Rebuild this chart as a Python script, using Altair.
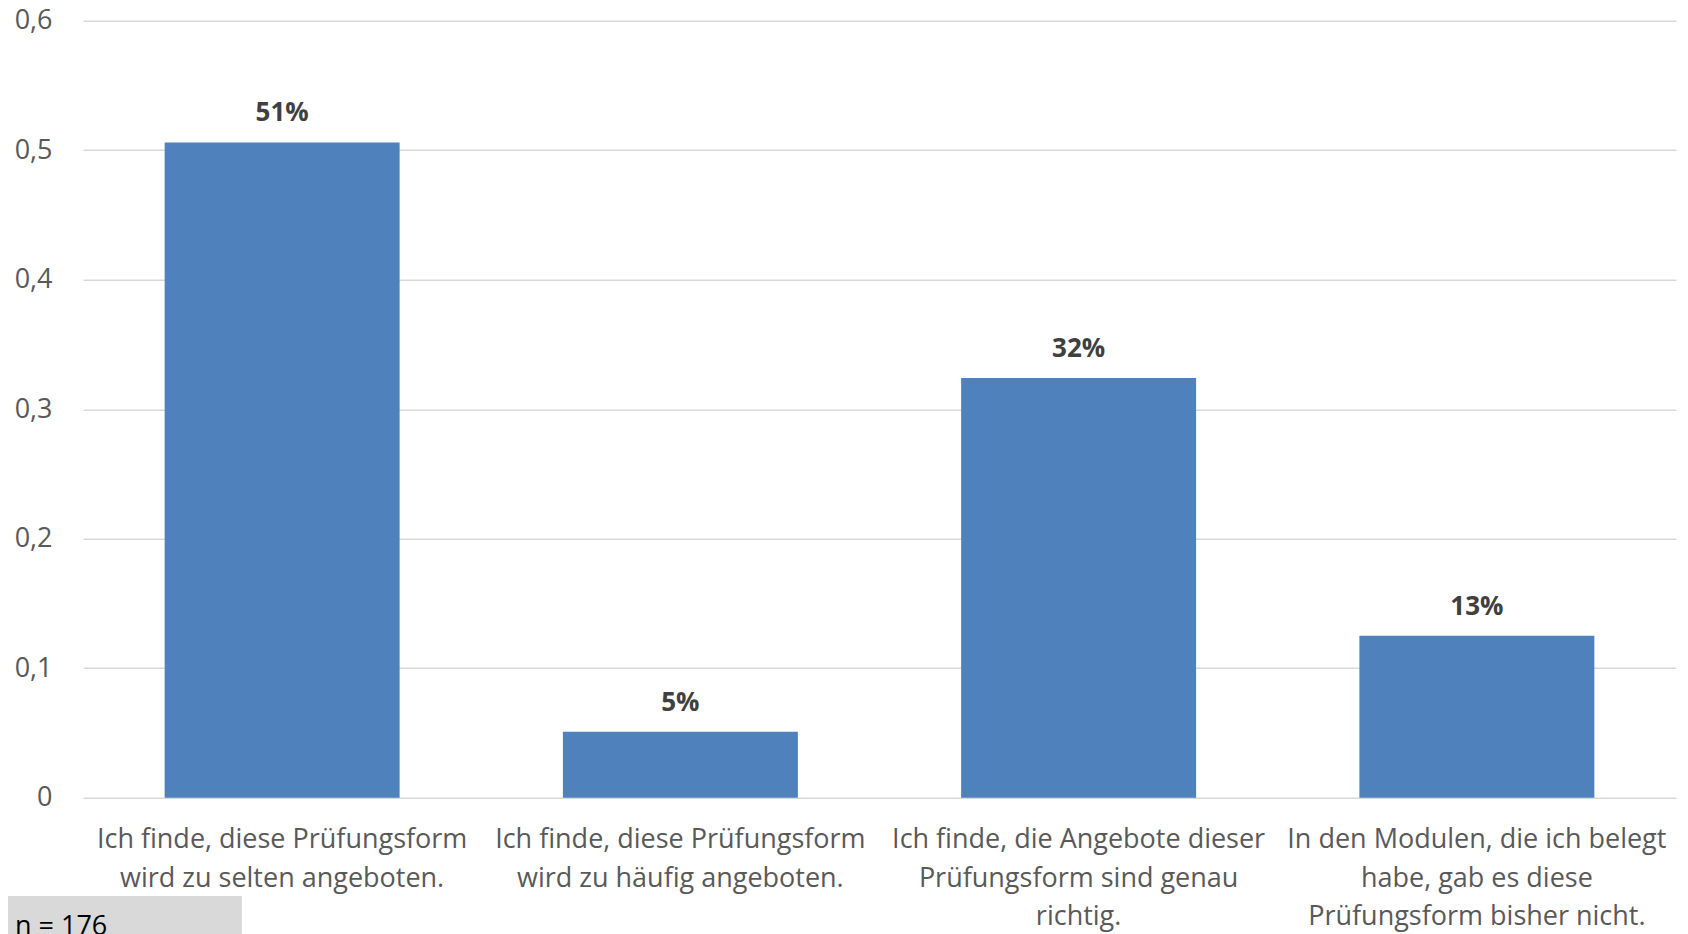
import altair as alt
import pandas as pd

categories = [
    "Ich finde, diese Prüfungsform\nwird zu selten angeboten.",
    "Ich finde, diese Prüfungsform\nwird zu häufig angeboten.",
    "Ich finde, die Angebote dieser\nPrüfungsform sind genau\nrichtig.",
    "In den Modulen, die ich belegt\nhabe, gab es diese\nPrüfungsform bisher nicht.",
]
values = [0.506, 0.051, 0.324, 0.125]
y_ticks = [0, 0.1, 0.2, 0.3, 0.4, 0.5, 0.6]
note = "n = 176"

df = pd.DataFrame({"cat": categories, "val": values})
FONT = "Open Sans"

x = alt.X(
    "cat:N",
    sort=categories,
    title=None,
    scale=alt.Scale(paddingInner=0.41, paddingOuter=0.205),
    axis=alt.Axis(
        labelExpr="split(datum.label, '\\n')",
        labelAngle=0,
        labelFont=FONT,
        labelFontSize=27,
        labelColor="#595959",
        labelLineHeight=38.5,
        labelPadding=29,
        labelLimit=0,
        ticks=False,
        domain=False,
        grid=False,
    ),
)
y = alt.Y(
    "val:Q",
    title=None,
    scale=alt.Scale(domain=[0, 0.6], nice=False),
    axis=alt.Axis(
        values=y_ticks,
        labelExpr="replace(format(datum.value, '.1~f'), '.', ',')",
        labelFont=FONT,
        labelFontSize=27,
        labelColor="#595959",
        labelPadding=31,
        ticks=False,
        domain=False,
        grid=True,
        gridColor="#D9D9D9",
        gridWidth=1.5,
    ),
)

base = alt.Chart(df)
bars = base.mark_bar(color="#4F81BD").encode(x=x, y=y)
labels = base.mark_text(
    font=FONT, fontSize=26, fontWeight="bold", color="#404040", baseline="alphabetic", dy=-21
).encode(x=x, y=y, text=alt.Text("val:Q", format=".0%"))

note_df = pd.DataFrame({"t": [note]})
box = alt.Chart(note_df).mark_rect(color="#D9D9D9").encode(
    x=alt.value(-75), x2=alt.value(159), y=alt.value(875.3), y2=alt.value(930)
)
note_text = alt.Chart(note_df).mark_text(
    font=FONT, fontSize=27, color="#000000", align="left", baseline="alphabetic"
).encode(x=alt.value(-68), y=alt.value(914), text="t:N")

chart = (
    alt.layer(bars, labels, box, note_text)
    .properties(
        width=1593,
        height=777,
        background="white",
        autosize=alt.AutoSizeParams(type="none"),
        padding={"left": 75, "top": 12.7, "right": 4, "bottom": 136},
    )
    .configure_view(strokeWidth=0, stroke=None)
)

chart.save("out.html", embed_options={"renderer": "svg", "actions": False})
